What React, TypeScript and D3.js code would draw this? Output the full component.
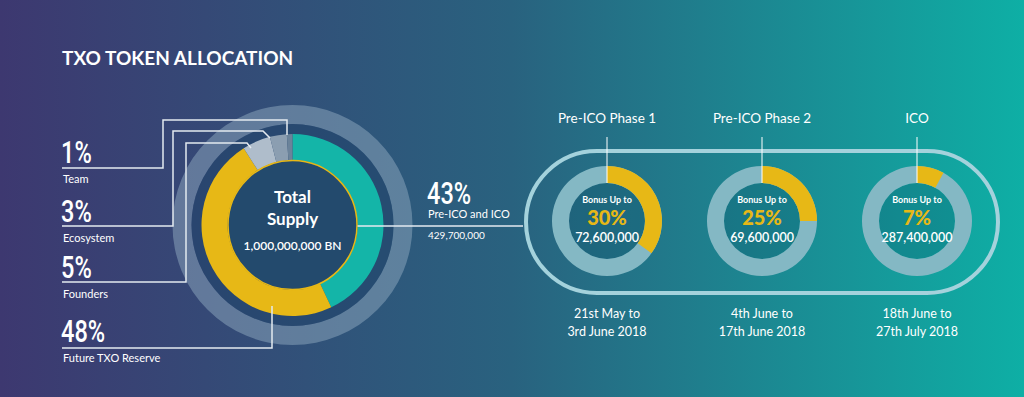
import React from "react";
import * as d3 from "d3";

// ---------- DATA ----------
const title = "TXO TOKEN ALLOCATION";
const allocLabels = ["Pre-ICO and ICO", "Future TXO Reserve", "Founders", "Ecosystem", "Team"];
const allocPct = [43, 48, 5, 3, 1];
const totalLabel = ["Total", "Supply"];
const totalAmount = "1,000,000,000 BN";
const saleAmount = "429,700,000";

const legendPct = ["1%", "3%", "5%", "48%"];
const legendNames = ["Team", "Ecosystem", "Founders", "Future TXO Reserve"];

const phaseNames = ["Pre-ICO Phase 1", "Pre-ICO Phase 2", "ICO"];
const phaseBonus = [30, 25, 7];
const phaseArcShare = [0.35, 0.25, 0.08];
const phaseTokens = ["72,600,000", "69,600,000", "287,400,000"];
const phaseDates = [
  ["21st May to", "3rd June 2018"],
  ["4th June to", "17th June 2018"],
  ["18th June to", "27th July 2018"],
];

// ---------- STYLE / LAYOUT ----------
const W = 1024;
const H = 397;
const allocColors = ["#14b5a8", "#e7b816", "#afbdcb", "#8b9eb1", "#6b839a"];
const YELLOW = "#e7b816";
const LINE = "#e4eaf0";
const FONT = "Lato, 'Open Sans', sans-serif";
const COND = "Roboto, 'DejaVu Sans', sans-serif";

const cx = 292.5;
const cy = 225;

function BigPct({ x, y, text }: { x: number; y: number; text: string }) {
  return (
    <text
      transform={`translate(${x},${y}) scale(0.76,1)`}
      fill="#fff"
      fontFamily={COND}
      fontWeight={500}
      fontSize={31}
    >
      {text}
    </text>
  );
}

export default function App() {
  const pie = d3.pie<number>().sort(null).value((d) => d).startAngle(0).endAngle(2 * Math.PI);
  const arcs = pie(allocPct);
  const donut = d3.arc<d3.PieArcDatum<number>>().innerRadius(65).outerRadius(91);
  const outerRing = d3.arc<any>()({ innerRadius: 101, outerRadius: 120, startAngle: 0, endAngle: 2 * Math.PI } as any) as string;

  const phaseX = d3.scalePoint<string>().domain(phaseNames).range([607, 917]);
  const pcy = 221;
  const pIn = 38;
  const pOut = 55;
  const phaseArc = d3.arc<any>();

  const legendTops = [163, 222, 278, 342];
  // connector layout (annotation lines)
  const connectors = [
    "M62,168 H163 V120 H287 V135",
    "M62,226 H173 V131 H263 L270,138",
    "M62,282 H186 V143 H247 L251,148",
    "M62,348 H272 V306",
  ];

  return (
    <svg width={W} height={H} style={{ position: "fixed", left: 0, top: 0, display: "block" }}>
      <defs>
        <linearGradient id="bg" x1="0" x2="1" y1="0" y2="0">
          <stop offset="0" stopColor="#3d3870" />
          <stop offset="0.5" stopColor="#29627f" />
          <stop offset="1" stopColor="#0eafa5" />
        </linearGradient>
      </defs>
      <rect width={W} height={H} fill="url(#bg)" />

      <text x={62} y={65} fill="#fff" fontFamily={FONT} fontWeight={700} fontSize={19}>
        {title}
      </text>

      {/* main donut */}
      <g transform={`translate(${cx},${cy})`}>
        <path d={outerRing} fill="#8fa9bf" opacity={0.5} />
        <circle r={101} fill="#22446a" opacity={0.6} />
        {arcs.map((a, i) => (
          <path key={i} d={donut(a) as string} fill={allocColors[i]} />
        ))}
        <circle r={64.5} fill="#234a6d" stroke={YELLOW} strokeWidth={1.5} />
        <text y={-22} textAnchor="middle" fill="#fff" fontFamily={FONT} fontWeight={700} fontSize={17}>
          {totalLabel[0]}
        </text>
        <text y={0} textAnchor="middle" fill="#fff" fontFamily={FONT} fontWeight={700} fontSize={17}>
          {totalLabel[1]}
        </text>
        <text y={25} textAnchor="middle" fill="#fff" fontFamily={FONT} fontWeight={600} fontSize={12}>
          {totalAmount}
        </text>
      </g>

      {/* connectors */}
      {connectors.map((d, i) => (
        <path key={i} d={d} fill="none" stroke={LINE} strokeWidth={1.5} />
      ))}
      <path d={`M${cx + 65},${cy + 1} H523`} stroke={LINE} strokeWidth={1.5} />

      {/* legend */}
      {legendNames.map((n, i) => (
        <g key={n}>
          <BigPct x={61} y={legendTops[i]} text={legendPct[i]} />
          <text x={63} y={legendTops[i] + 20} fill="#fff" fontFamily={FONT} fontSize={11}>
            {n}
          </text>
        </g>
      ))}

      {/* 43% */}
      <BigPct x={427} y={204} text={allocPct[0] + "%"} />
      <text x={428} y={218} fill="#fff" fontFamily={FONT} fontSize={11}>
        {allocLabels[0]}
      </text>
      <text x={428} y={239} fill="#fff" fontFamily={FONT} fontSize={10}>
        {saleAmount}
      </text>

      {/* stadium */}
      <rect x={526} y={151} width={472} height={142} rx={71} fill="none" stroke="#a4d2dc" strokeWidth={4} />

      {/* phases */}
      {phaseNames.map((n, i) => {
        const x = phaseX(n) as number;
        const full = phaseArc({ innerRadius: pIn, outerRadius: pOut, startAngle: 0, endAngle: 2 * Math.PI }) as string;
        const part = phaseArc({ innerRadius: pIn, outerRadius: pOut, startAngle: 0, endAngle: 2 * Math.PI * phaseArcShare[i] }) as string;
        return (
          <g key={n}>
            <text x={x} y={123} textAnchor="middle" fill="#fff" fontFamily={FONT} fontSize={13.5}>
              {n}
            </text>
            <g transform={`translate(${x},${pcy})`}>
              <circle r={pIn} fill="#0d4f66" opacity={0.25} />
              <path d={full} fill="#84b8c4" />
              <path d={part} fill={YELLOW} />
              <text y={-18} textAnchor="middle" fill="#fff" fontFamily={FONT} fontWeight={700} fontSize={9}>
                Bonus Up to
              </text>
              <text y={4} textAnchor="middle" fill={YELLOW} fontFamily={FONT} fontWeight={900} fontSize={20}>
                {phaseBonus[i] + "%"}
              </text>
              <text y={21} textAnchor="middle" fill="#fff" fontFamily={FONT} fontWeight={600} fontSize={12.5}>
                {phaseTokens[i]}
              </text>
            </g>
            <line x1={x} x2={x} y1={137} y2={pcy - pIn} stroke="#fff" strokeWidth={1} />
            <text x={x} y={318} textAnchor="middle" fill="#fff" fontFamily={FONT} fontSize={12.5}>
              {phaseDates[i][0]}
            </text>
            <text x={x} y={336} textAnchor="middle" fill="#fff" fontFamily={FONT} fontSize={12.5}>
              {phaseDates[i][1]}
            </text>
          </g>
        );
      })}
    </svg>
  );
}
